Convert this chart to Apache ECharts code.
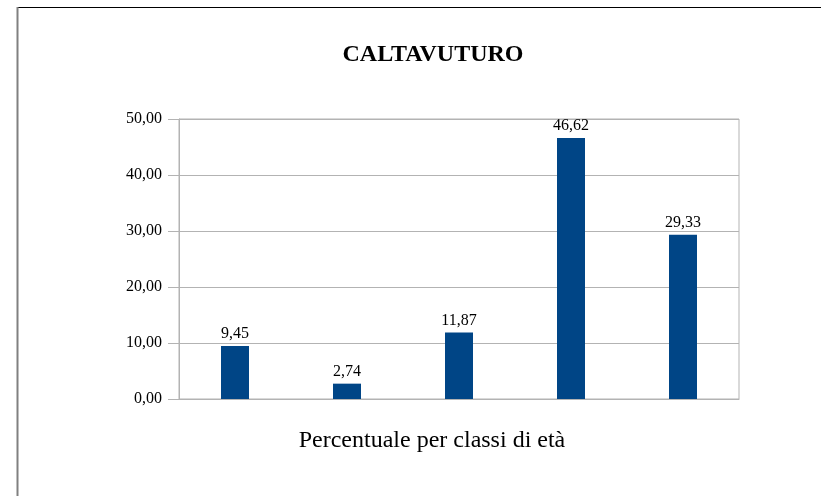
<!DOCTYPE html>
<html>
<head>
<meta charset="utf-8">
<script src="https://cdn.jsdelivr.net/npm/echarts@6/dist/echarts.min.js"></script>
<style>html,body{margin:0;padding:0;background:#fff}#c{width:821px;height:496px}</style>
</head>
<body>
<div id="c"></div>
<script>
var categories = ['1', '2', '3', '4', '5'];
var values = [9.45, 2.74, 11.87, 46.62, 29.33];
var yTicks = [0, 10, 20, 30, 40, 50];
var titleText = 'CALTAVUTURO';
var xAxisTitle = 'Percentuale per classi di età';

var serif = '"Liberation Serif", "DejaVu Serif", serif';
function fmt(v){ return Number(v).toFixed(2).replace('.', ','); }

var chart = echarts.init(document.getElementById('c'), null, {renderer: 'canvas'});
chart.setOption({
  animation: false,
  backgroundColor: '#ffffff',
  title: {
    text: titleText,
    left: 428, textAlign: 'center', top: 38,
    textStyle: {fontFamily: serif, fontWeight: 'bold', fontSize: 24, color: '#000'}
  },
  graphic: [
    {type: 'line', shape: {x1: 17, y1: 7.5, x2: 821, y2: 7.5}, style: {stroke: '#000', lineWidth: 1}},
    {type: 'line', shape: {x1: 17.5, y1: 7, x2: 17.5, y2: 496}, style: {stroke: '#808080', lineWidth: 2}}
  ],
  grid: {left: 179, right: 82, top: 119, bottom: 97, show: true, borderColor: '#b3b3b3', borderWidth: 1, backgroundColor: 'transparent'},
  xAxis: {
    type: 'category', data: categories,
    name: xAxisTitle, nameLocation: 'middle', nameGap: 30,
    nameTextStyle: {fontFamily: serif, fontSize: 24, color: '#000', padding: [0, 54, 0, 0]},
    axisLine: {show: true, lineStyle: {color: '#b3b3b3'}},
    axisTick: {show: false},
    axisLabel: {show: false}
  },
  yAxis: {
    type: 'value', min: yTicks[0], max: yTicks[yTicks.length - 1], interval: 10,
    axisLine: {show: true, lineStyle: {color: '#b3b3b3'}},
    axisTick: {show: true, inside: false, length: 11, lineStyle: {color: '#b3b3b3'}},
    axisLabel: {formatter: fmt, fontFamily: serif, fontSize: 16, color: '#000', margin: 17},
    splitLine: {show: true, lineStyle: {color: '#b3b3b3'}}
  },
  series: [{
    type: 'bar', data: values, barWidth: '25%',
    itemStyle: {color: '#004586'},
    label: {show: true, position: 'top', distance: 4, formatter: function(p){ return fmt(p.value); },
            fontFamily: serif, fontSize: 16, color: '#000'}
  }]
});
</script>
</body>
</html>
